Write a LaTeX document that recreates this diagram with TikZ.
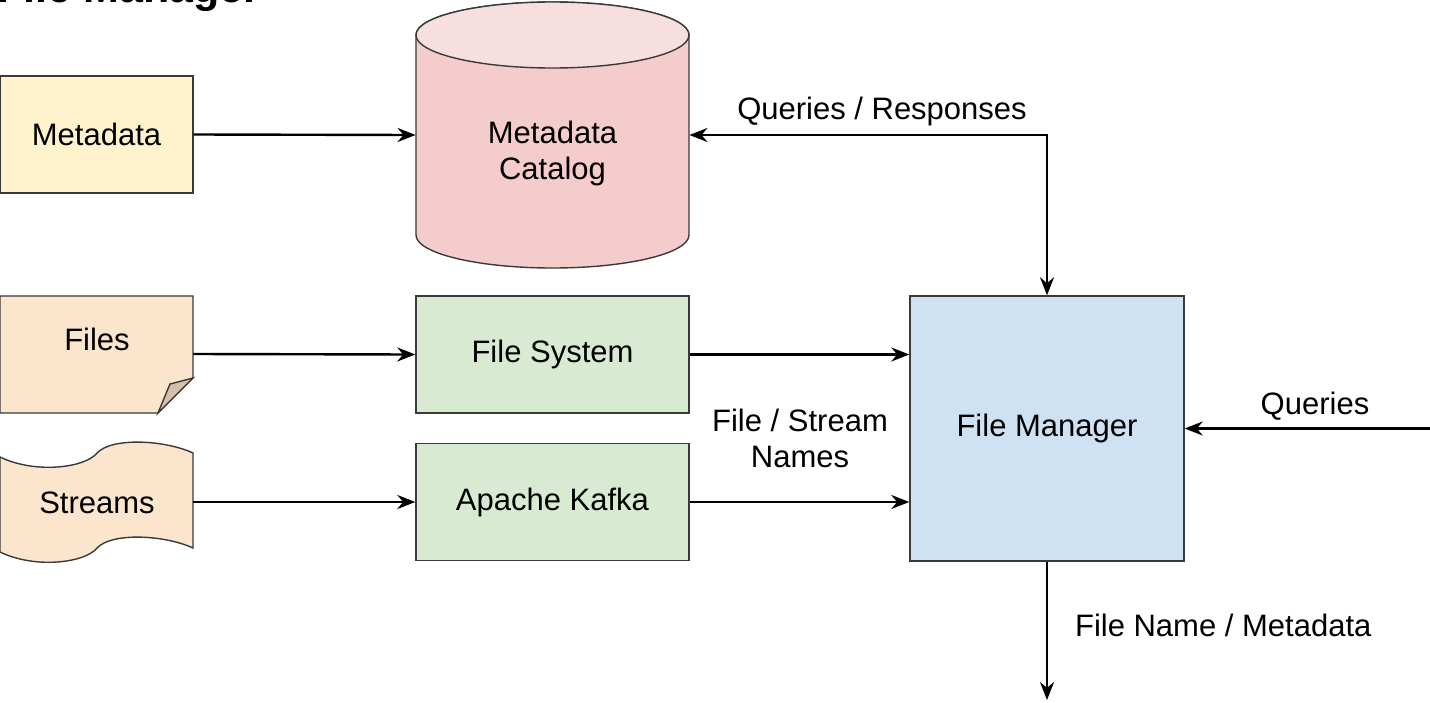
\documentclass[tikz,border=0pt]{standalone}
\usepackage{fontspec}
\setmainfont{Liberation Sans}
\usetikzlibrary{arrows.meta}
\definecolor{cyellow}{HTML}{FFF2CC}
\definecolor{cpink}{HTML}{F4CCCC}
\definecolor{cpinktop}{HTML}{F8DFDF}
\definecolor{corange}{HTML}{FCE5CD}
\definecolor{cfold}{HTML}{D6BFA8}
\definecolor{cgreen}{HTML}{D9EAD3}
\definecolor{cblue}{HTML}{CFE2F3}
\definecolor{cstroke}{HTML}{3A3A3A}
\tikzset{
  lbl/.style={font=\fontsize{15.5}{18}\selectfont, align=center, text=black},
  boxnode/.style={draw=cstroke, line width=0.7pt, minimum width=136.5pt, minimum height=58.5pt, inner sep=0pt, lbl},
  ghost/.style={minimum width=96.5pt, minimum height=58.5pt, inner sep=0pt, lbl},
  arr/.style={-{Stealth[length=9pt,width=7pt]}, line width=1.2pt, black},
  shp/.style={draw=cstroke, line width=0.7pt},
}
\begin{document}
\begin{tikzpicture}[x=0.5pt,y=-0.5pt]
\useasboundingbox (0,0) rectangle (1430,702);
\clip (0,0) rectangle (1430,702);
\fill[white] (0,0) rectangle (1430,702);
% title (cropped, as in the reference)
\node[anchor=base west, inner sep=0pt, font=\fontsize{21.5}{24}\selectfont\bfseries] (title) at (-3,2) {File Manager};
% Metadata
\node[boxnode, fill=cyellow, minimum width=96.5pt] (meta) at (96.5,134.5) {Metadata};
% Catalog cylinder
\node[ghost, minimum width=136.5pt, minimum height=133pt] (cat) at (552.5,135) {};
\path[shp, fill=cpink] (416,35) -- (416,235) arc[start angle=180, end angle=0, x radius=136.5, y radius=33] -- (689,35) arc[start angle=0, end angle=-180, x radius=136.5, y radius=33] -- cycle;
\path[shp, fill=cpinktop] (552.5,35) ellipse[x radius=136.5, y radius=33];
\node[lbl] (cattxt) at (552.5,153) {Metadata\\Catalog};
% Files document
\node[ghost] (files) at (96.5,354) {};
\path[shp, fill=corange] (0,296) -- (193,296) -- (193,378) -- (158,413) -- (0,413) -- cycle;
\path[shp, fill=cfold] (193,378) -- (170,384) -- (158,413) -- cycle;
\node[lbl] (filestxt) at (97,339) {Files};
% Streams tape
\node[ghost] (streams) at (96.5,502) {};
\path[shp, fill=corange] (0,457) .. controls (35,474) and (85,468) .. (97,453)
  .. controls (112,437) and (165,440) .. (193,453) -- (193,548)
  .. controls (165,535) and (112,532) .. (97,548)
  .. controls (85,563) and (35,569) .. (0,552) -- cycle;
\node[lbl] (streamstxt) at (97,503) {Streams};
% Green boxes
\node[boxnode, fill=cgreen] (fs) at (552.5,354.5) {\raisebox{-1.5pt}{File System}};
\node[boxnode, fill=cgreen] (kafka) at (552.5,502) {\raisebox{-1.5pt}{Apache Kafka}};
% File Manager
\node[boxnode, fill=cblue, minimum width=137pt, minimum height=132.5pt] (fm) at (1047,428.5) {\raisebox{-1.5pt}{File Manager}};
% free ends
\coordinate (qin) at (1430,428.5);
\coordinate (outp) at (1047,700);
% connectors
\draw[arr] (meta.east) -- (cat.west);
\draw[arr, {Stealth[length=9pt,width=7pt]}-{Stealth[length=9pt,width=7pt]}] (fm.north) |- (cat.east);
\draw[arr] (files.east) -- (fs.west);
\draw[arr] (fs.east) -- (fs.east -| fm.west);
\draw[arr] (streams.east) -- (kafka.west);
\draw[arr] (kafka.east) -- (kafka.east -| fm.west);
\draw[arr] (qin) -- (fm.east);
\draw[arr] (fm.south) -- (outp);
% labels
\node[lbl] (lqr) at (882,111) {Queries / Responses};
\node[lbl] (lfsn) at (800,438) {File / Stream\\Names};
\node[lbl] (lq) at (1315,406) {Queries};
\node[lbl, anchor=west] (lfnm) at (1068,625) {File Name / Metadata};
\end{tikzpicture}
\end{document}
